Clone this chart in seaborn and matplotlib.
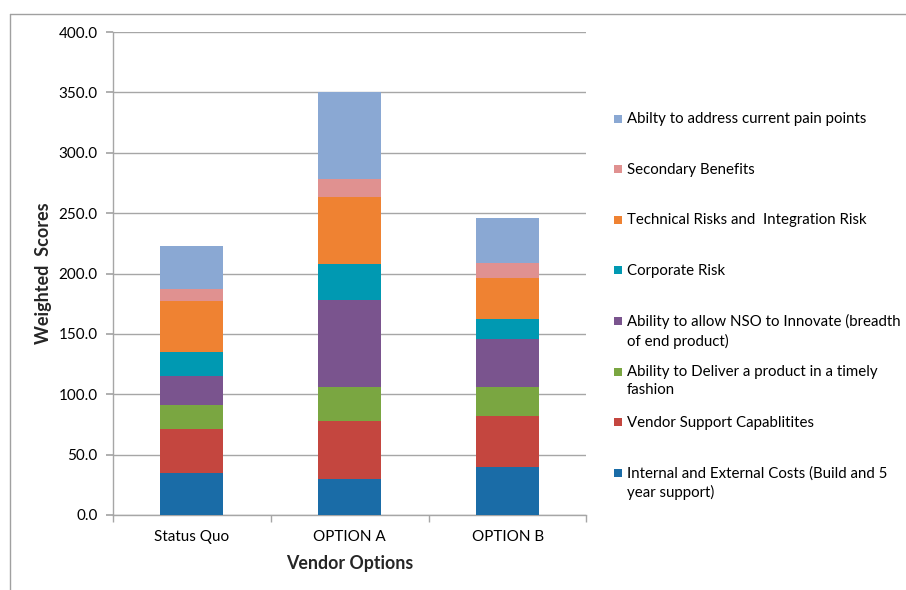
import textwrap
import numpy as np
import pandas as pd
import matplotlib.pyplot as plt
from matplotlib.lines import Line2D
from matplotlib.patches import Rectangle
import seaborn as sns

# vendor options on the x axis
options = ["Status Quo", "OPTION A", "OPTION B"]

# criteria, bottom of the stack first
criteria = [
    "Internal and External Costs (Build and 5 year support)",
    "Vendor Support Capablitites",
    "Ability to Deliver a product in a timely fashion",
    "Ability to allow NSO to Innovate (breadth of end product)",
    "Corporate Risk",
    "Technical Risks and  Integration Risk",
    "Secondary Benefits",
    "Abilty to address current pain points",
]

# weighted scores per criterion (Status Quo, OPTION A, OPTION B)
costs = [35, 30, 40]
support = [36, 48, 42]
delivery = [20, 28, 24]
innovate = [24, 72, 40]
corp_risk = [20, 30, 16]
tech_risk = [42, 55, 34]
secondary = [10, 15, 13]
pain_points = [36, 72, 37]

scores = [costs, support, delivery, innovate, corp_risk, tech_risk, secondary, pain_points]

colors = ["#1a6ca7", "#c4463f", "#7aa641", "#7a548e",
          "#0099b2", "#ef8232", "#e09190", "#8aa8d3"]

sns.set_theme(style="white")
plt.rcParams["font.family"] = ["Lato", "DejaVu Sans"]

fig = plt.figure(figsize=(9.06, 5.9), dpi=100)
ax = fig.add_axes([113 / 906, 75 / 590, 473.5 / 906, 483 / 590])

df = pd.DataFrame({"option": options})
bottom = np.zeros(len(options))
for name, vals, col in zip(criteria, scores, colors):
    df[name] = vals
    sns.barplot(data=df, x="option", y=name, bottom=bottom, color=col,
                width=0.4, saturation=1, errorbar=None, ax=ax, zorder=3,
                linewidth=0, edgecolor="none")
    bottom = bottom + np.array(vals)

grid_col = "#a6a6a6"
ax.set_xlim(-0.5, 2.5)
ax.set_ylim(0, 400)
ax.set_yticks(np.arange(0, 401, 50))
ax.set_yticklabels([f"{v:.1f}" for v in np.arange(0, 401, 50)])
ax.yaxis.grid(True, color=grid_col, linewidth=1)
ax.set_axisbelow(True)

for s in ["top", "right"]:
    ax.spines[s].set_visible(False)
for s in ["left", "bottom"]:
    ax.spines[s].set_color(grid_col)
    ax.spines[s].set_linewidth(1)

ax.tick_params(axis="y", which="major", left=True, length=5, color=grid_col,
               labelsize=11, pad=6, labelcolor="#000000")
ax.set_xticks([-0.5, 0.5, 1.5, 2.5], minor=True)
ax.tick_params(axis="x", which="minor", bottom=True, length=5, color=grid_col)
ax.tick_params(axis="x", which="major", length=0, labelsize=11, pad=11,
               labelcolor="#000000")

ax.set_xlabel("Vendor Options", fontsize=12.8, fontweight="bold")
ax.set_ylabel("Weighted  Scores", fontsize=13, fontweight="bold")
ax.xaxis.set_label_coords(0.5, -0.083)
ax.yaxis.set_label_coords(-0.128, 0.5)

# legend, top entry first, each entry 50.6 px apart
W, H = 906, 590
for i, (name, col) in enumerate(zip(criteria[::-1], colors[::-1])):
    yc = 118.5 + 50.6 * i
    fig.patches.append(Rectangle((613.5 / W, 1 - (yc + 4) / H), 8 / W, 8 / H,
                                 transform=fig.transFigure, facecolor=col,
                                 edgecolor="none"))
    fig.text(627 / W, 1 - (yc - 6.5) / H, textwrap.fill(name, 41),
             fontsize=10.8, va="top", ha="left", linespacing=1.4, color="#000000")

# chart area border (cut off on the right and bottom)
fig.lines.append(Line2D([10 / W, 1], [1 - 14 / H] * 2, transform=fig.transFigure,
                        color="#a0a0a0", linewidth=1))
fig.lines.append(Line2D([10 / W] * 2, [0, 1 - 14 / H], transform=fig.transFigure,
                        color="#a0a0a0", linewidth=1))

fig.savefig("out.png", dpi=100)
